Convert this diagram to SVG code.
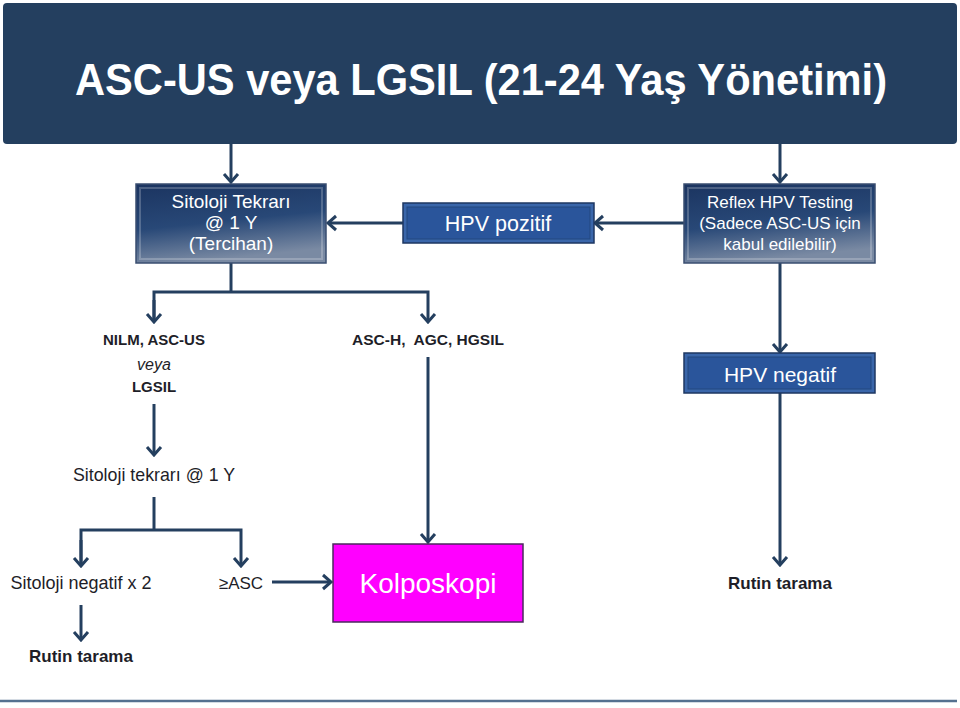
<svg xmlns="http://www.w3.org/2000/svg" width="960" height="708" viewBox="0 0 960 708">
<defs>
<linearGradient id="gBox" x1="0" y1="0" x2="0.25" y2="1">
<stop offset="0" stop-color="#1B3460"/>
<stop offset="0.55" stop-color="#284877"/>
<stop offset="1" stop-color="#7A8AA3"/>
</linearGradient>
<marker id="arr" viewBox="-11 -9 13 18" refX="0" refY="0" markerWidth="13" markerHeight="18" markerUnits="userSpaceOnUse" orient="auto">
<path d="M-8,-7 L0,0 L-8,7" fill="none" stroke="#243F5F" stroke-width="3"/>
</marker>
<style>
.ln{fill:none;stroke:#243F5F;stroke-width:3}
.wt{fill:#FFFFFF;font-family:"Liberation Sans",Arial,sans-serif;text-anchor:middle}
.dk{fill:#1E1E28;font-family:"Liberation Sans",Arial,sans-serif;text-anchor:middle}
.b{font-weight:bold}
.gbox{fill:url(#gBox);stroke:#3A4E70;stroke-width:1.5}
.gin{fill:none;stroke:#FFFFFF;stroke-opacity:0.22;stroke-width:2}
.bbox{fill:#3A66AA;stroke:#1E3762;stroke-width:1.5}
.bin{fill:#2A559B;stroke:#23497F;stroke-width:1}
</style>
</defs>
<rect width="960" height="708" fill="#FFFFFF"/>
<g id="title">
<rect x="3" y="3" width="954" height="141" rx="4" fill="#243F5F"/>
<text x="481" y="95" class="wt b" font-size="44" textLength="812" lengthAdjust="spacingAndGlyphs">ASC-US veya LGSIL (21-24 Yaş Yönetimi)</text>
</g>
<line x1="0" y1="701" x2="957" y2="701" stroke="#55708F" stroke-width="2.5"/>
<g id="connectors">
<line class="ln" x1="231" y1="144" x2="231" y2="182" marker-end="url(#arr)"/>
<line class="ln" x1="780" y1="144" x2="780" y2="182" marker-end="url(#arr)"/>
<line class="ln" x1="403" y1="223" x2="328" y2="223" marker-end="url(#arr)"/>
<line class="ln" x1="684" y1="223" x2="595" y2="223" marker-end="url(#arr)"/>
<polyline class="ln" points="231,263 231,292"/>
<polyline class="ln" points="154,322 154,292 428,292 428,322" marker-end="url(#arr)"/>
<line class="ln" x1="154" y1="300" x2="154" y2="322" marker-end="url(#arr)"/>
<line class="ln" x1="780" y1="263" x2="780" y2="352" marker-end="url(#arr)"/>
<line class="ln" x1="154" y1="404" x2="154" y2="455" marker-end="url(#arr)"/>
<line class="ln" x1="428" y1="357" x2="428" y2="542" marker-end="url(#arr)"/>
<line class="ln" x1="780" y1="393" x2="780" y2="565" marker-end="url(#arr)"/>
<polyline class="ln" points="154,497 154,530"/>
<polyline class="ln" points="81,566 81,530 241,530 241,566" marker-end="url(#arr)"/>
<line class="ln" x1="81" y1="540" x2="81" y2="566" marker-end="url(#arr)"/>
<line class="ln" x1="272" y1="582" x2="331" y2="582" marker-end="url(#arr)"/>
<line class="ln" x1="81" y1="605" x2="81" y2="640" marker-end="url(#arr)"/>
</g>
<g id="sitoloji-tekrari">
<rect class="gbox" x="136" y="184" width="190" height="79"/>
<rect class="gin" x="140" y="188" width="182" height="71"/>
<text class="wt" font-size="19" x="231" y="208">Sitoloji Tekrarı</text>
<text class="wt" font-size="19" x="231" y="229">@ 1 Y</text>
<text class="wt" font-size="19" x="231" y="250">(Tercihan)</text>
</g>
<g id="hpv-pozitif">
<rect class="bbox" x="403" y="203" width="191" height="40"/>
<rect class="bin" x="407" y="207" width="183" height="32"/>
<text class="wt" font-size="21.5" x="498" y="231">HPV pozitif</text>
</g>
<g id="reflex">
<rect class="gbox" x="684" y="184" width="191" height="79"/>
<rect class="gin" x="688" y="188" width="183" height="71"/>
<text class="wt" font-size="17" x="780" y="208">Reflex HPV Testing</text>
<text class="wt" font-size="17" x="780" y="229">(Sadece ASC-US için</text>
<text class="wt" font-size="17" x="780" y="250">kabul edilebilir)</text>
</g>
<g id="nilm">
<text class="dk b" font-size="15" x="154" y="345">NILM, ASC-US</text>
<text class="dk" font-size="16" font-style="italic" x="154" y="370">veya</text>
<text class="dk b" font-size="15" x="154" y="392">LGSIL</text>
</g>
<g id="asch">
<text class="dk b" font-size="15.5" x="428" y="345" xml:space="preserve">ASC-H,  AGC, HGSIL</text>
</g>
<g id="hpv-negatif">
<rect class="bbox" x="684" y="353" width="191" height="40"/>
<rect class="bin" x="688" y="357" width="183" height="32"/>
<text class="wt" font-size="21" x="780" y="382">HPV negatif</text>
</g>
<g id="sitoloji-tekrari-1y">
<text class="dk" font-size="17.8" x="154" y="481">Sitoloji tekrarı @ 1 Y</text>
</g>
<g id="sitoloji-negatif">
<text class="dk" font-size="18" x="81" y="589">Sitoloji negatif x 2</text>
</g>
<g id="asc">
<text class="dk" font-size="17" x="241" y="589">≥ASC</text>
</g>
<g id="kolposkopi">
<rect x="333" y="544" width="190" height="78" fill="#FF00FF" stroke="#4B2A5E" stroke-width="1.5"/>
<text class="wt" font-size="28" x="428" y="593">Kolposkopi</text>
</g>
<g id="rutin-tarama-1">
<text class="dk b" font-size="17" x="81" y="662">Rutin tarama</text>
</g>
<g id="rutin-tarama-2">
<text class="dk b" font-size="17" x="780" y="589">Rutin tarama</text>
</g>
</svg>
